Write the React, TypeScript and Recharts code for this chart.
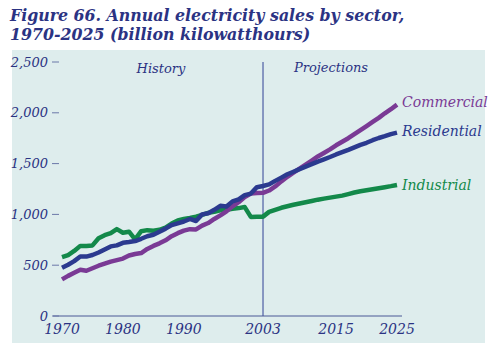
import React from 'react';
import { LineChart, Line, XAxis, YAxis, ReferenceLine, LabelList } from 'recharts';

const years = [
  1970, 1971, 1972, 1973, 1974, 1975, 1976, 1977, 1978, 1979,
  1980, 1981, 1982, 1983, 1984, 1985, 1986, 1987, 1988, 1989,
  1990, 1991, 1992, 1993, 1994, 1995, 1996, 1997, 1998, 1999,
  2000, 2001, 2002, 2003, 2004, 2005, 2006, 2007, 2008, 2009,
  2010, 2011, 2012, 2013, 2014, 2015, 2016, 2017, 2018, 2019,
  2020, 2021, 2022, 2023, 2024, 2025,
];

const residential = [
  475, 505, 540, 585, 585, 600, 625, 655, 685, 695,
  720, 728, 738, 760, 785, 800, 830, 860, 895, 912,
  930, 955, 935, 1000, 1012, 1045, 1085, 1078, 1128, 1148,
  1190, 1205, 1268, 1280, 1295, 1330, 1362, 1395, 1420, 1445,
  1470, 1495, 1520, 1542, 1565, 1590, 1612, 1635, 1660, 1685,
  1705, 1730, 1752, 1770, 1790, 1805,
];

const commercial = [
  360, 395, 425, 455, 445, 470, 495, 515, 535, 550,
  565, 595, 610, 620, 660, 690, 715, 745, 785, 815,
  840, 855, 852, 890, 915, 955, 990, 1030, 1080, 1120,
  1170, 1205, 1210, 1212, 1235, 1275, 1325, 1370, 1410, 1450,
  1490, 1530, 1570, 1605, 1640, 1680, 1715, 1750, 1790, 1830,
  1870, 1910, 1950, 1995, 2035, 2080,
];

const industrial = [
  580, 600, 640, 690, 690, 695, 765, 795, 815, 855,
  820, 830, 755, 835, 845, 840, 848, 870, 910, 940,
  955, 965, 978, 995, 1015, 1025, 1040, 1045, 1055, 1062,
  1072, 975, 978, 978, 1025, 1045, 1065, 1080, 1095, 1108,
  1120, 1132, 1145, 1155, 1165, 1175, 1185, 1200, 1215, 1228,
  1238, 1248, 1258, 1268, 1278, 1290,
];

const xTicks = [1970, 1980, 1990, 2003, 2015, 2025];
const yTicks = [0, 500, 1000, 1500, 2000, 2500];
const titleLines = ['Figure 66. Annual electricity sales by sector,', '1970-2025 (billion kilowatthours)'];
const periodLabels = ['History', 'Projections'];
const dividerYear = 2003;

const NAVY = '#2b3383';
const PURPLE = '#7a3a95';
const BLUE = '#2b3a8f';
const GREEN = '#13894a';
const PANEL = '#deeded';
const SERIF = "'DejaVu Serif', serif";

const data = years.map((year, i) => ({
  year,
  residential: residential[i],
  commercial: commercial[i],
  industrial: industrial[i],
}));

const YTick = (props: any) => {
  const { y, payload } = props;
  return (
    <g>
      <text x={48} y={y} dy={4.5} textAnchor="end" fill={NAVY} fontFamily={SERIF} fontStyle="italic" fontSize={13}>
        {Number(payload.value).toLocaleString('en-US')}
      </text>
      <line x1={52} x2={59} y1={y} y2={y} stroke="#6b78a8" strokeWidth={1} />
    </g>
  );
};

const XTick = (props: any) => {
  const { x, y, payload } = props;
  return (
    <text x={x} y={y} dy={10} textAnchor="middle" fill={NAVY} fontFamily={SERIF} fontStyle="italic" fontSize={14}>
      {payload.value}
    </text>
  );
};

const makeEndLabel = (text: string, color: string, dyOff: number) => (props: any) => {
  const { x, y, index } = props;
  if (index !== years.length - 1) return null;
  return (
    <text x={Number(x) + 5} y={Number(y) + dyOff} fill={color} fontFamily={SERIF} fontStyle="italic" fontSize={14}>
      {text}
    </text>
  );
};

const PeriodLabels = (props: any) => {
  const vb = props.viewBox || {};
  const x = vb.x;
  const top = vb.y;
  return (
    <g>
      <text x={x - 102} y={top + 11} textAnchor="middle" fill={NAVY} fontFamily={SERIF} fontStyle="italic" fontSize={13}>
        {periodLabels[0]}
      </text>
      <text x={x + 68} y={top + 10} textAnchor="middle" fill={NAVY} fontFamily={SERIF} fontStyle="italic" fontSize={13}>
        {periodLabels[1]}
      </text>
    </g>
  );
};

export default function App() {
  return (
    <div style={{ position: 'absolute', left: 0, top: 0, width: 500, height: 355, background: '#ffffff', overflow: 'hidden' }}>
      <div style={{ position: 'absolute', left: 12, top: 50, width: 473, height: 293, background: PANEL }} />
      <svg width={500} height={50} style={{ position: 'absolute', left: 0, top: 0 }}>
        {titleLines.map((t, i) => (
          <text key={i} x={10} y={21 + i * 19} fill={NAVY} fontFamily={SERIF} fontWeight="bold" fontStyle="italic" fontSize={15.8}>
            {t}
          </text>
        ))}
      </svg>
      <div style={{ position: 'absolute', left: 0, top: 0 }}>
        <LineChart width={500} height={355} data={data} margin={{ top: 62, right: 98, bottom: 9, left: 0 }}>
          <XAxis
            type="number"
            dataKey="year"
            domain={[1968.52, 2025.82]}
            ticks={xTicks}
            interval={0}
            height={30}
            tickLine={false}
            axisLine={{ stroke: '#4a5896', strokeWidth: 1 }}
            tick={<XTick />}
          />
          <YAxis
            type="number"
            domain={[0, 2500]}
            ticks={yTicks}
            width={53}
            axisLine={false}
            tickLine={false}
            tick={<YTick />}
          />
          <ReferenceLine x={dividerYear} stroke="#6a7ab2" strokeWidth={1.5} label={<PeriodLabels />} />
          <Line type="linear" dataKey="industrial" stroke={GREEN} strokeWidth={4.5} dot={false} isAnimationActive={false} strokeLinejoin="round">
            <LabelList dataKey="industrial" content={makeEndLabel('Industrial', GREEN, 5)} />
          </Line>
          <Line type="linear" dataKey="commercial" stroke={PURPLE} strokeWidth={4.5} dot={false} isAnimationActive={false} strokeLinejoin="round">
            <LabelList dataKey="commercial" content={makeEndLabel('Commercial', PURPLE, 2)} />
          </Line>
          <Line type="linear" dataKey="residential" stroke={BLUE} strokeWidth={4.5} dot={false} isAnimationActive={false} strokeLinejoin="round">
            <LabelList dataKey="residential" content={makeEndLabel('Residential', BLUE, 3)} />
          </Line>
        </LineChart>
      </div>
    </div>
  );
}
